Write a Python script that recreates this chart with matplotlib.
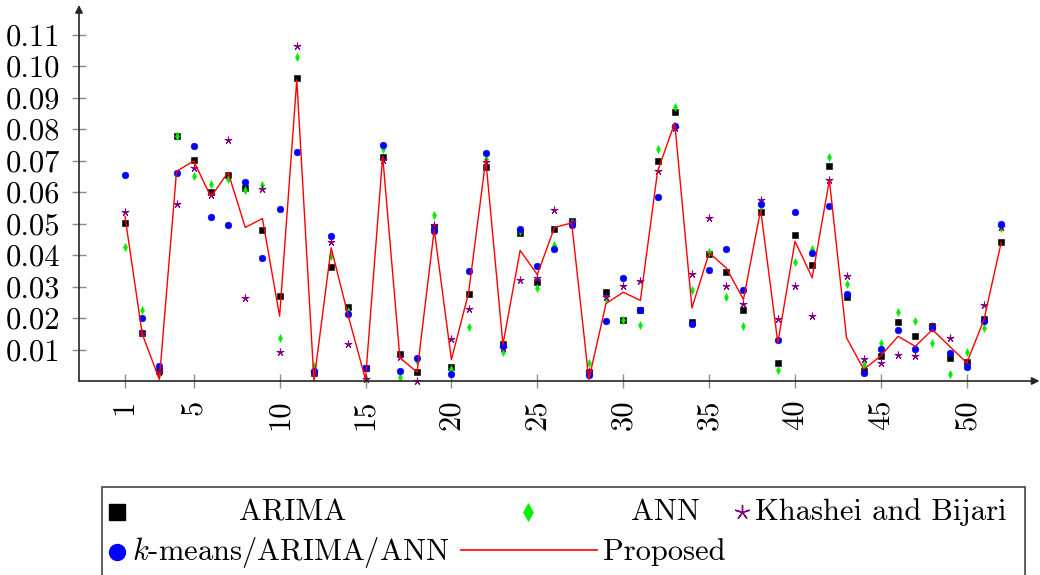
import matplotlib
matplotlib.use('Agg')
import matplotlib.pyplot as plt
from matplotlib.lines import Line2D
from matplotlib.patches import Rectangle

plt.rcParams['font.family'] = ['cmr10', 'DejaVu Serif']
plt.rcParams['mathtext.fontset'] = 'cm'
plt.rcParams['axes.unicode_minus'] = False

# ---------------- data ----------------
x = list(range(1, 53))

arima = [0.0502, 0.0153, 0.0031, 0.0779, 0.0702, 0.0599, 0.0653, 0.0613, 0.0481, 0.0270,
         0.0964, 0.0024, 0.0363, 0.0235, 0.0042, 0.0710, 0.0085, 0.0028, 0.0490, 0.0045,
         0.0275, 0.0679, 0.0119, 0.0470, 0.0314, 0.0483, 0.0509, 0.0028, 0.0282, 0.0195,
         0.0225, 0.0698, 0.0855, 0.0187, 0.0402, 0.0345, 0.0227, 0.0538, 0.0058, 0.0465,
         0.0369, 0.0683, 0.0266, 0.0031, 0.0080, 0.0187, 0.0142, 0.0176, 0.0074, 0.0060,
         0.0198, 0.0440]

ann = [0.0427, 0.0227, 0.0021, 0.0779, 0.0652, 0.0627, 0.0642, 0.0606, 0.0623, 0.0137,
       0.1028, 0.0047, 0.0396, 0.0222, 0.0005, 0.0737, 0.0014, 0.0063, 0.0528, 0.0037,
       0.0171, 0.0705, 0.0091, 0.0475, 0.0295, 0.0431, 0.0505, 0.0056, 0.0259, 0.0195,
       0.0179, 0.0737, 0.0870, 0.0290, 0.0410, 0.0268, 0.0175, 0.0555, 0.0034, 0.0377,
       0.0420, 0.0712, 0.0309, 0.0053, 0.0121, 0.0218, 0.0192, 0.0121, 0.0022, 0.0093,
       0.0167, 0.0485]

khashei = [0.0537, 0.0153, 0.0030, 0.0562, 0.0677, 0.0592, 0.0766, 0.0264, 0.0610, 0.0091,
           0.1065, 0.0030, 0.0441, 0.0118, 0.0005, 0.0701, 0.0077, 0.0000, 0.0495, 0.0134,
           0.0228, 0.0695, 0.0105, 0.0320, 0.0328, 0.0544, 0.0505, 0.0030, 0.0266, 0.0303,
           0.0317, 0.0666, 0.0805, 0.0340, 0.0517, 0.0301, 0.0246, 0.0575, 0.0197, 0.0301,
           0.0208, 0.0637, 0.0332, 0.0070, 0.0056, 0.0083, 0.0081, 0.0176, 0.0137, 0.0055,
           0.0240, 0.0490]

kmeans = [0.0653, 0.0199, 0.0049, 0.0661, 0.0745, 0.0521, 0.0496, 0.0631, 0.0390, 0.0547,
          0.0729, 0.0033, 0.0460, 0.0214, 0.0042, 0.0750, 0.0033, 0.0074, 0.0476, 0.0022,
          0.0351, 0.0724, 0.0110, 0.0482, 0.0364, 0.0420, 0.0495, 0.0020, 0.0191, 0.0326,
          0.0225, 0.0584, 0.0809, 0.0182, 0.0352, 0.0418, 0.0288, 0.0562, 0.0130, 0.0536,
          0.0407, 0.0557, 0.0276, 0.0026, 0.0103, 0.0163, 0.0103, 0.0169, 0.0088, 0.0046,
          0.0190, 0.0500]

proposed = [0.0523, 0.0150, 0.0005, 0.0666, 0.0699, 0.0585, 0.0663, 0.0488, 0.0516, 0.0206,
            0.0957, 0.0000, 0.0423, 0.0206, 0.0005, 0.0714, 0.0074, 0.0028, 0.0481, 0.0068,
            0.0280, 0.0703, 0.0116, 0.0415, 0.0338, 0.0488, 0.0502, 0.0005, 0.0246, 0.0282,
            0.0256, 0.0666, 0.0820, 0.0232, 0.0407, 0.0359, 0.0259, 0.0544, 0.0121, 0.0444,
            0.0328, 0.0638, 0.0137, 0.0037, 0.0080, 0.0142, 0.0110, 0.0163, 0.0110, 0.0058,
            0.0195, 0.0440]

xticks = [1, 5, 10, 15, 20, 25, 30, 35, 40, 45, 50]
xtick_labels = ['1', '5', '10', '15', '20', '25', '30', '35', '40', '45', '50']
yticks = [0.01, 0.02, 0.03, 0.04, 0.05, 0.06, 0.07, 0.08, 0.09, 0.10, 0.11]
ytick_labels = ['0.01', '0.02', '0.03', '0.04', '0.05', '0.06', '0.07', '0.08', '0.09', '0.10', '0.11']

series_labels = ['ARIMA', 'ANN', 'Khashei and Bijari', r'$k$-means/ARIMA/ANN', 'Proposed']

# ---------------- figure ----------------
W, H = 1040, 575
fig = plt.figure(figsize=(W / 100, H / 100), dpi=100)
ax = fig.add_axes([79 / W, 1 - 381 / H, (1040 - 79) / W, (381 - 5) / H])

GREEN = '#00ee00'
PURPLE = '#800080'
BLUE = '#0000ff'

ax.plot(x, arima, ls='none', marker='s', ms=4.8, color='black', mew=0.4, clip_on=False, zorder=3)
ax.plot(x, ann, ls='none', marker='d', ms=4.0, color=GREEN, mew=0.4, clip_on=False, zorder=3)
ax.plot(x, khashei, ls='none', marker=(5, 2, 0), ms=5.5, color=PURPLE, mew=0.8, clip_on=False, zorder=3)
ax.plot(x, kmeans, ls='none', marker='o', ms=4.8, color=BLUE, mew=0.4, clip_on=False, zorder=3)
ax.plot(x, proposed, color='red', lw=1.0, clip_on=False, zorder=4)

ax.set_xlim(-1.677, 54.26)
ax.set_ylim(0, 0.11944)

for s in ax.spines.values():
    s.set_visible(False)

axis_col = '#262626'
ax.annotate('', xy=(0, 1), xycoords='axes fraction', xytext=(0, 0), textcoords='axes fraction',
            arrowprops=dict(arrowstyle='-|>', color=axis_col, lw=1.2, shrinkA=0, shrinkB=0,
                            mutation_scale=11), zorder=5)
ax.annotate('', xy=(0.9995, 0), xycoords='axes fraction', xytext=(0, 0), textcoords='axes fraction',
            arrowprops=dict(arrowstyle='-|>', color=axis_col, lw=1.2, shrinkA=0, shrinkB=0,
                            mutation_scale=11), zorder=5)

ax.set_xticks(xticks)
ax.set_xticklabels(xtick_labels, rotation=90)
ax.set_yticks(yticks)
ax.set_yticklabels(ytick_labels)
ax.tick_params(axis='both', direction='inout', length=10, width=1, color='#8a8a8a',
               labelsize=22, labelcolor='black')
ax.tick_params(axis='y', pad=8.6)
ax.tick_params(axis='x', pad=8.3)

# ---------------- legend (manual, pgfplots-like) ----------------
def fx(px):
    return px / W

def fy(py):
    return 1 - py / H

fig.patches.append(Rectangle((fx(101.7), fy(580)), fx(1025) - fx(101.7), fy(487) - fy(580),
                             transform=fig.transFigure, fill=False, edgecolor='#444444', lw=1.2))

row1_mark, row2_mark = 512.3, 551.5
row1_base, row2_base = 520.5, 559.5
fs = 22

fig.add_artist(Line2D([fx(116.7)], [fy(row1_mark)], marker='s', ms=11.5, color='black',
                      ls='none', transform=fig.transFigure))
fig.text(fx(292.5), fy(row1_base), series_labels[0], ha='center', va='baseline', fontsize=fs)

fig.add_artist(Line2D([fx(528.3)], [fy(row1_mark)], marker='d', ms=8.7, color=GREEN,
                      ls='none', mew=0.4, transform=fig.transFigure))
fig.text(fx(665), fy(row1_base), series_labels[1], ha='center', va='baseline', fontsize=fs)

fig.add_artist(Line2D([fx(741.7)], [fy(row1_mark)], marker=(5, 2, 0), ms=11, color=PURPLE,
                      ls='none', mew=1.0, transform=fig.transFigure))
fig.text(fx(755), fy(row1_base), series_labels[2], ha='left', va='baseline', fontsize=fs)

fig.add_artist(Line2D([fx(117.3)], [fy(row2_mark)], marker='o', ms=11.5, color=BLUE,
                      ls='none', transform=fig.transFigure))
fig.text(fx(131.7), fy(row2_base), series_labels[3], ha='left', va='baseline', fontsize=fs)

fig.add_artist(Line2D([fx(460.7), fx(596.7)], [fy(550), fy(550)], color='red', lw=1.2,
                      transform=fig.transFigure))
fig.text(fx(602.7), fy(row2_base), series_labels[4], ha='left', va='baseline', fontsize=fs)

fig.savefig('out.png', dpi=100)
